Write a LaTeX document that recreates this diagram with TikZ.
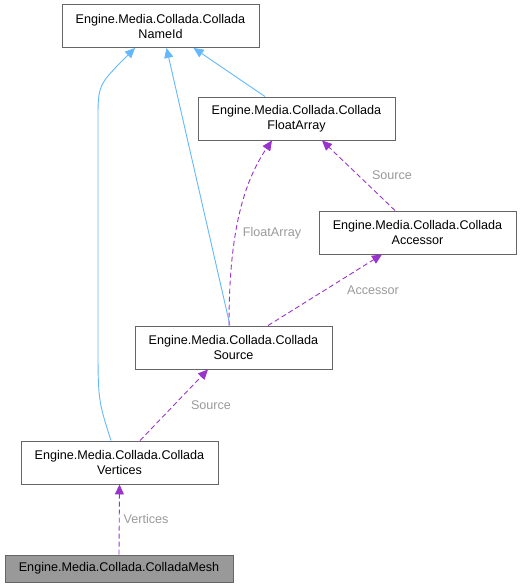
\documentclass[tikz,border=0pt]{standalone}
\usepackage{fontspec}
\setmainfont{Liberation Sans}
\usetikzlibrary{arrows.meta}
\definecolor{boxline}{HTML}{666666}
\definecolor{meshfill}{HTML}{999999}
\definecolor{inhcol}{HTML}{63B8FF}
\definecolor{usecol}{HTML}{9A32CD}
\definecolor{lblcol}{HTML}{9A9A9A}

\begin{document}
\begin{tikzpicture}[x=1pt, y=-1pt, every node/.style={font=\fontsize{12.6}{15}\selectfont},
  classbox/.style={draw=boxline, fill=white, line width=0.9pt, minimum width=197pt, minimum height=43pt, align=center, inner sep=0pt},
  inherit/.style={draw=inhcol, line width=0.9pt, -{Triangle[length=10pt,width=9pt,fill=inhcol]}},
  uses/.style={draw=usecol, line width=0.9pt, dash pattern=on 5pt off 3pt, -{Triangle[length=10pt,width=9pt,fill=usecol]}},
  edgelbl/.style={text=lblcol}]
  \useasboundingbox (0,0) rectangle (522,588);
  % classes
  \node[classbox] (nameid) at (160.5,26) {Engine.Media.Collada.Collada\\NameId};
  \node[classbox] (flt) at (296.5,118.5) {Engine.Media.Collada.Collada\\FloatArray};
  \node[classbox] (acc) at (417.5,232.5) {Engine.Media.Collada.Collada\\Accessor};
  \node[classbox] (src) at (233.5,347.5) {Engine.Media.Collada.Collada\\Source};
  \node[classbox] (vert) at (119.5,462.5) {Engine.Media.Collada.Collada\\Vertices};
  \node[classbox, fill=meshfill, minimum width=228pt, minimum height=27pt] (mesh) at (119,568.5) {Engine.Media.Collada.ColladaMesh};
  % inheritance
  \draw[inherit] ([xshift=-8.5pt]vert.north) .. controls (98,400) .. (98,340) -- (98,120) .. controls (98,85) .. ([xshift=-25.5pt]nameid.south);
  \draw[inherit] ([xshift=-3.5pt]src.north) -- ([xshift=6pt]nameid.south);
  \draw[inherit] ([xshift=-31.5pt]flt.north) -- ([xshift=33pt]nameid.south);
  % usage
  \draw[uses] ([xshift=-4.5pt]src.north) .. controls (229,250) and (238,190) .. ([xshift=-24.5pt]flt.south);
  \draw[uses] ([xshift=-22.5pt]acc.north) -- ([xshift=25.5pt]flt.south);
  \draw[uses] ([xshift=34.5pt]src.north) -- ([xshift=-35.5pt]acc.south);
  \draw[uses] ([xshift=20.5pt]vert.north) -- ([xshift=-25.5pt]src.south);
  \draw[uses] (mesh.north) -- (vert.south);
  % labels
  \node[edgelbl] (lflt) at (272,233) {FloatArray};
  \node[edgelbl] (lsrca) at (392,175) {Source};
  \node[edgelbl] (lacc) at (373,290) {Accessor};
  \node[edgelbl] (lsrcb) at (211,405) {Source};
  \node[edgelbl] (lvert) at (146,519) {Vertices};
\end{tikzpicture}
\end{document}
